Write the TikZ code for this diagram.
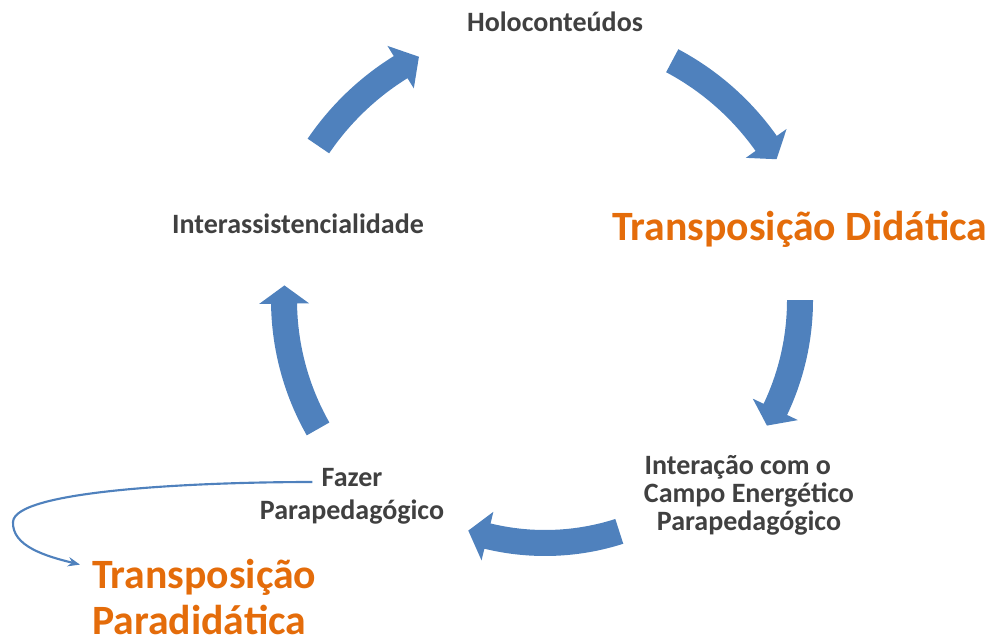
\documentclass[tikz,border=0pt]{standalone}
\usepackage{fontspec}
\setmainfont{Carlito}
\usetikzlibrary{calc,arrows.meta}
\definecolor{cycleblue}{HTML}{4F81BD}
\definecolor{labelgray}{HTML}{404040}
\definecolor{hiorange}{HTML}{E46C0A}
% radius, tail angle, head base angle, tip angle (around ctr)
\newcommand{\bentArrow}[4]{%
  \fill[cycleblue] ($(ctr)+(#2:#1-13)$) arc[start angle=#2, end angle=#3, radius=#1-13]
    -- ($(ctr)+(#3:#1-25)$) -- ($(ctr)+(#4:#1)$) -- ($(ctr)+(#3:#1+25)$)
    -- ($(ctr)+(#3:#1+13)$) arc[start angle=#3, end angle=#2, radius=#1+13] -- cycle;}

\begin{document}
\begin{tikzpicture}[x=0.75pt, y=-0.75pt]
  \tikzset{
    label/.style={inner sep=0pt, text=labelgray, font=\bfseries\fontsize{21}{21}\selectfont, align=center},
    biglabel/.style={inner sep=0pt, text=hiorange, font=\bfseries\fontsize{31.3}{35}\selectfont},
    thinlink/.style={draw=cycleblue, line width=1.6pt, -{Stealth[length=9pt, width=7pt]}}
  }
  \useasboundingbox (0,0) rectangle (987,639);
  \coordinate (ctr) at (545,300);

  \node[label] (holo) at (555,22) {Holoconteúdos};
  \node[biglabel, anchor=west] (tdid) at (612,229) {Transposição Didática};
  \node[label] (campo) at (749,495) {Interação com o\hspace*{0.8em}\\Campo Energético\\Parapedagógico};
  \node[label] (fazer) at (352,478) {Fazer};
  \node[label] (fazerb) at (352,512) {Parapedagógico};
  \node[label] (inter) at (298,224) {Interassistencialidade};
  \node[biglabel, anchor=west, align=left] (tpara) at (92,597) {Transposição\\Paradidática};

  % cycle arrows
  \bentArrow{274}{-145.8}{-121.8}{-117.4}
  \bentArrow{271}{-62}{-35.3}{-31.3}
  \bentArrow{255}{0}{25.4}{29.5}
  \bentArrow{243}{72.2}{103.7}{108.4}
  \bentArrow{261}{150.4}{179.2}{183.2}

  \coordinate (fzstart) at ($(fazer.west)+(-9,4)$);
  \coordinate (tpend) at ($(tpara.north west)+(-12,6)$);
  \draw[thinlink] (fzstart) .. controls (200,482) and (14,490) .. (13,522)
    .. controls (12,546) and (45,556) .. (tpend);
\end{tikzpicture}
\end{document}
